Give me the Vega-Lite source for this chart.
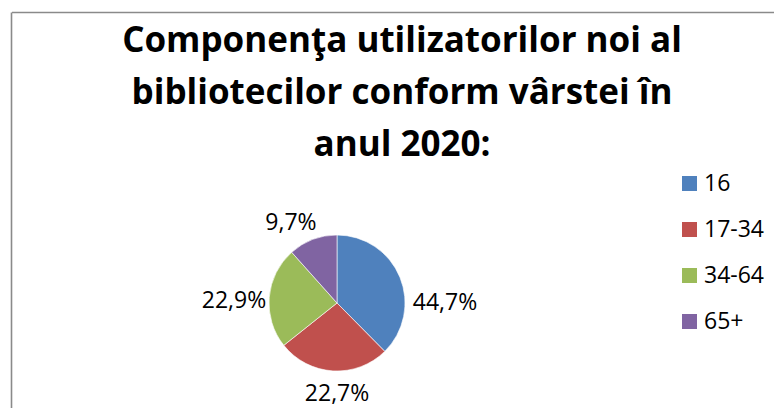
{
  "$schema": "https://vega.github.io/schema/vega-lite/v6.json",
  "width": 674,
  "height": 210,
  "autosize": "none",
  "padding": {"left": 0, "top": 198, "right": 100, "bottom": 0},
  "background": "white",
  "title": {
    "text": ["Componenţa utilizatorilor noi al", "bibliotecilor conform vârstei în", "anul 2020:"],
    "font": "Open Sans",
    "fontSize": 35,
    "fontWeight": "bold",
    "lineHeight": 52,
    "color": "#000000",
    "anchor": "middle",
    "baseline": "top",
    "dx": 65,
    "offset": -151
  },
  "data": {
    "values": [
      {"age": "16", "share": 37.6, "label": "44,7%"},
      {"age": "17-34", "share": 26.7, "label": "22,7%"},
      {"age": "34-64", "share": 24.1, "label": "22,9%"},
      {"age": "65+", "share": 11.6, "label": "9,7%"}
    ]
  },
  "layer": [
    {
      "mark": {"type": "point", "opacity": 0},
      "encoding": {
        "x": {
          "field": "share", "type": "quantitative",
          "scale": {"range": [11.5, 774]},
          "axis": {"orient": "top", "offset": 186, "title": null, "labels": false, "ticks": false, "grid": false, "domain": true, "domainColor": "#8a8a8a", "domainWidth": 1.6}
        },
        "y": {
          "field": "share", "type": "quantitative",
          "scale": {"range": [210, -186]},
          "axis": {"orient": "left", "offset": -11, "title": null, "labels": false, "ticks": false, "grid": false, "domain": true, "domainColor": "#8a8a8a", "domainWidth": 1.6}
        }
      }
    },
    {
      "mark": {"type": "arc", "outerRadius": 68, "stroke": "#ffffff", "strokeWidth": 0.6},
      "encoding": {
        "theta": {"field": "share", "type": "quantitative", "stack": true},
        "order": {"field": "age", "type": "nominal", "sort": "ascending"},
        "color": {
          "field": "age",
          "type": "nominal",
          "scale": {"domain": ["16", "17-34", "34-64", "65+"], "range": ["#4F81BD", "#C0504D", "#9BBB59", "#8064A2"]},
          "legend": {
            "title": null,
            "orient": "none",
            "legendX": 678,
            "legendY": -26,
            "symbolType": "square",
            "symbolSize": 225,
            "symbolStrokeWidth": 0,
            "labelFont": "Open Sans",
            "labelFontSize": 23,
            "labelColor": "#000000",
            "labelOffset": 3,
            "rowPadding": 22,
            "padding": 0
          }
        }
      }
    },
    {
      "mark": {"type": "text", "radius": 108, "thetaOffset": 0.39, "font": "Open Sans", "fontSize": 23, "color": "#000000"},
      "encoding": {
        "theta": {"field": "share", "type": "quantitative", "stack": true},
        "order": {"field": "age", "type": "nominal", "sort": "ascending"},
        "text": {"condition": {"test": "datum.age === '16'", "field": "label"}, "value": ""}
      }
    },
    {
      "mark": {"type": "text", "radius": 91, "thetaOffset": -0.06, "font": "Open Sans", "fontSize": 23, "color": "#000000"},
      "encoding": {
        "theta": {"field": "share", "type": "quantitative", "stack": true},
        "order": {"field": "age", "type": "nominal", "sort": "ascending"},
        "text": {"condition": {"test": "datum.age === '17-34'", "field": "label"}, "value": ""}
      }
    },
    {
      "mark": {"type": "text", "radius": 103, "thetaOffset": -0.07, "font": "Open Sans", "fontSize": 23, "color": "#000000"},
      "encoding": {
        "theta": {"field": "share", "type": "quantitative", "stack": true},
        "order": {"field": "age", "type": "nominal", "sort": "ascending"},
        "text": {"condition": {"test": "datum.age === '34-64'", "field": "label"}, "value": ""}
      }
    },
    {
      "mark": {"type": "text", "radius": 92, "thetaOffset": -0.16, "font": "Open Sans", "fontSize": 23, "color": "#000000"},
      "encoding": {
        "theta": {"field": "share", "type": "quantitative", "stack": true},
        "order": {"field": "age", "type": "nominal", "sort": "ascending"},
        "text": {"condition": {"test": "datum.age === '65+'", "field": "label"}, "value": ""}
      }
    }
  ],
  "config": {"view": {"stroke": null}}
}
